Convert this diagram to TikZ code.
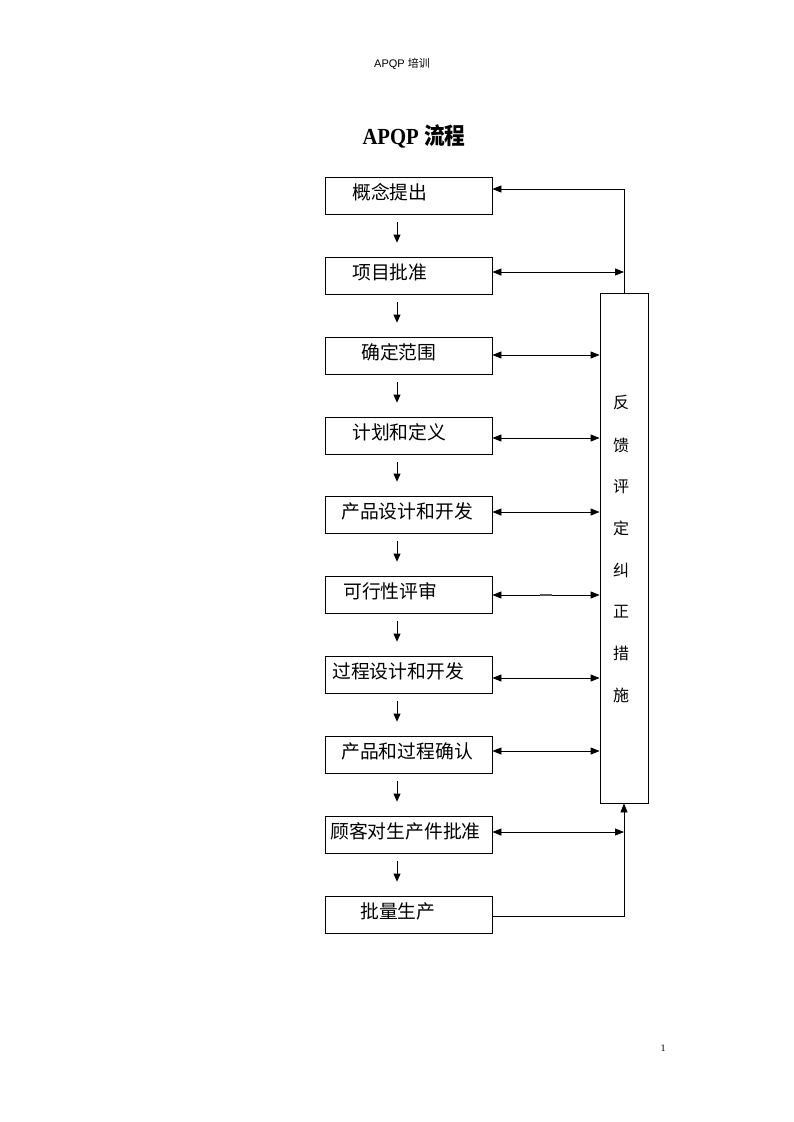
\documentclass[tikz,border=0pt]{standalone}
\usepackage{fontspec}
\setmainfont{Liberation Serif}
\newfontfamily\cjk{Noto Sans CJK SC}
\newfontfamily\hdsans{Liberation Sans}
\usetikzlibrary{arrows.meta}
\begin{document}
\begin{tikzpicture}[x=1pt,y=-1pt,
  box/.style={draw,line width=0.8pt,minimum width=167pt,minimum height=37pt,inner sep=0pt},
  btxt/.style={anchor=west,inner sep=0pt,font=\cjk\fontsize{18.8}{20}\selectfont},
  vtxt/.style={inner sep=0pt,font=\cjk\fontsize{16}{17}\selectfont},
  conn/.style={line width=0.8pt,-{Triangle[length=9pt,width=7pt]}},
  dconn/.style={line width=0.8pt,{Triangle[length=9pt,width=7pt]}-{Triangle[length=9pt,width=7pt]}},
  down/.style={line width=0.8pt,-{Triangle[length=8pt,width=7pt]}}]
\useasboundingbox[fill=white] (0,0) rectangle (793,1122);
% header and title
\node[inner sep=0pt] (hdr) at (402,64) {\hdsans\fontsize{11}{12}\selectfont APQP \cjk 培训};
\node[inner sep=0pt] (title) at (414,136) {\scalebox{0.9}[1]{\fontsize{23}{26}\selectfont\bfseries APQP \cjk\bfseries 流程}};
\node[inner sep=0pt] (pg) at (663,1048) {\fontsize{10}{12}\selectfont 1};
% boxes
\node[box] (b1) at (408.5,195.5) {};
\node[box] (b2) at (408.5,275.5) {};
\node[box] (b3) at (408.5,355.5) {};
\node[box] (b4) at (408.5,435.5) {};
\node[box] (b5) at (408.5,514.5) {};
\node[box] (b6) at (408.5,594.5) {};
\node[box] (b7) at (408.5,674.5) {};
\node[box] (b8) at (408.5,754.5) {};
\node[box] (b9) at (408.5,834.5) {};
\node[box] (b10) at (408.5,914.5) {};
% box texts
\node[btxt] (t1) at (352,192) {概念提出};
\node[btxt] (t2) at (352,272) {项目批准};
\node[btxt] (t3) at (361,352) {确定范围};
\node[btxt] (t4) at (352,432) {计划和定义};
\node[btxt] (t5) at (341,511) {产品设计和开发};
\node[btxt] (t6) at (343,591) {可行性评审};
\node[btxt] (t7) at (332,671) {过程设计和开发};
\node[btxt] (t8) at (341,751) {产品和过程确认};
\node[btxt] (t9) at (330,831) {顾客对生产件批准};
\node[btxt] (t10) at (360,911) {批量生产};
% feedback box
\node[draw,line width=0.8pt,minimum width=48pt,minimum height=510pt,inner sep=0pt] (fb) at (624,548) {};
\node[vtxt] (v1) at (621,403) {反};
\node[vtxt] (v2) at (621,445) {馈};
\node[vtxt] (v3) at (621,487) {评};
\node[vtxt] (v4) at (621,528) {定};
\node[vtxt] (v5) at (621,570) {纠};
\node[vtxt] (v6) at (621,612) {正};
\node[vtxt] (v7) at (621,653) {措};
\node[vtxt] (v8) at (621,695) {施};
% down arrows
\foreach \a/\b in {b1/b2,b2/b3,b3/b4,b4/b5,b5/b6,b6/b7,b7/b8,b8/b9,b9/b10}
  \draw[down] ([xshift=-11.5pt,yshift=-8pt]\a.south) -- ([xshift=-11.5pt,yshift=14pt]\b.north);
% feedback connectors
\draw[conn] (fb.north) -- (fb.north |- 0,189) -- (b1.east |- 0,189);
\draw[dconn] (b2.east |- 0,272) -- (fb.north |- 0,272);
\draw[dconn] (b3.east |- 0,355) -- (fb.west |- 0,355);
\draw[dconn] (b4.east |- 0,438) -- (fb.west |- 0,438);
\draw[dconn] (b5.east |- 0,512) -- (fb.west |- 0,512);
\draw[dconn] (b6.east |- 0,595) -- (fb.west |- 0,595);
\draw[line width=1.6pt,gray!70!black] (540,595) -- (552,595);
\draw[dconn] (b7.east |- 0,678) -- (fb.west |- 0,678);
\draw[dconn] (b8.east |- 0,751) -- (fb.west |- 0,751);
\draw[dconn] (b9.east |- 0,832) -- (fb.south |- 0,832);
\draw[conn] (b10.east |- 0,916) -- (fb.south |- 0,916) -- (fb.south);
\end{tikzpicture}
\end{document}
